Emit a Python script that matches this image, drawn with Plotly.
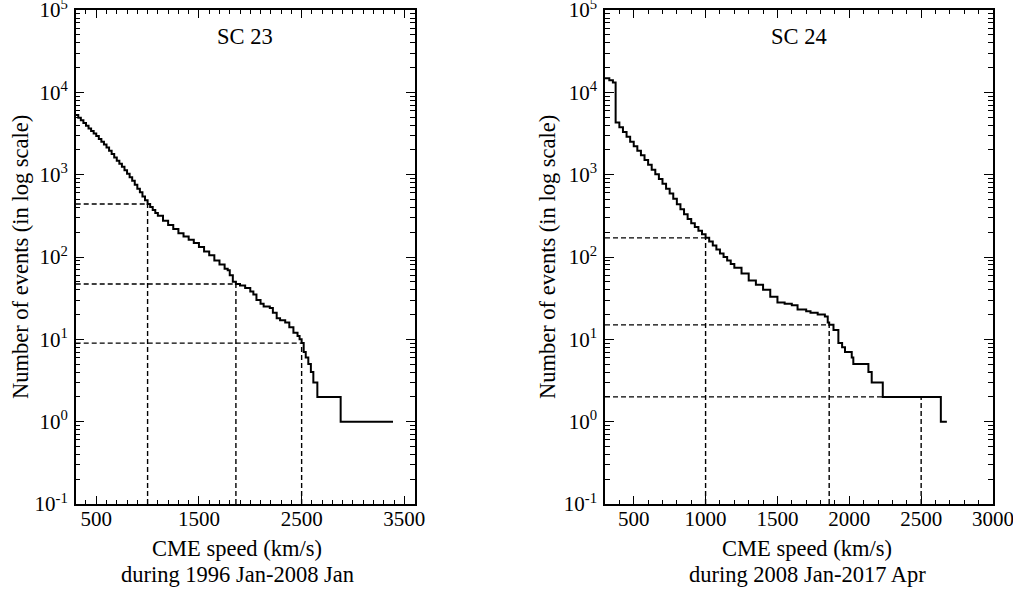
import plotly.graph_objects as go

W, H = 1013, 590

# ---- data ----
sc23_speed = [300, 325, 350, 375, 400, 425, 450, 475, 500, 525, 550, 575, 600, 625, 650, 675,
              700, 725, 750, 775, 800, 825, 850, 875, 900, 925, 950, 975,
              1000, 1025, 1050, 1075, 1100, 1150, 1200, 1250, 1300, 1350, 1400, 1450, 1500, 1550,
              1600, 1650, 1700, 1750, 1780, 1800, 1830, 1860, 1900, 1950, 2000, 2030,
              2060, 2100, 2130, 2190, 2220, 2257, 2290, 2340, 2380, 2420, 2460, 2480,
              2500, 2520, 2540, 2565, 2590, 2614, 2653, 2880, 3390]
sc23_count = [5300, 4920, 4570, 4250, 3940, 3650, 3390, 3160, 2950, 2720, 2510, 2320, 2140, 1950, 1780, 1620,
              1480, 1360, 1245, 1130, 1023, 930, 841, 755, 676, 610, 543, 490,
              440, 405, 372, 343, 316, 275, 245, 219, 195, 178, 162, 148, 132, 117,
              105, 91, 81, 72, 69, 60, 50, 47, 45, 42, 38, 35,
              30, 27, 25, 24, 21, 18, 17, 16, 14, 12, 11, 10,
              9, 7, 6, 5, 4, 3, 2, 1, 1]

sc24_speed = [300, 330, 355, 374, 400, 425, 450, 475, 500, 525, 550, 575, 600, 625, 650, 675,
              700, 725, 750, 775, 800, 825, 850, 875, 900, 925, 950, 975,
              1000, 1025, 1050, 1075, 1100, 1125, 1150, 1175, 1200, 1250, 1300, 1350, 1400, 1450, 1500, 1550,
              1600, 1640, 1700, 1730, 1780, 1830, 1850, 1860, 1890, 1924, 1950, 1970,
              2017, 2028, 2133, 2156, 2233, 2637, 2679]
sc24_count = [14800, 14000, 13200, 4300, 3760, 3290, 2880, 2520, 2210, 1950, 1720, 1510, 1320, 1150, 1010, 885,
              776, 676, 589, 510, 437, 380, 331, 290, 257, 231, 209, 189,
              171, 154, 138, 123, 110, 100, 91, 82, 74, 63, 52, 46, 40, 33, 28, 27,
              26, 23, 22, 21, 20, 19, 16, 15, 13, 9, 8, 7,
              6, 5, 4, 3, 2, 1, 1]

ref_speeds = [1000, 1860, 2500]
sc23_ref_counts = [440, 47, 9]
sc24_ref_counts = [171, 15, 2]

ytick_vals = [0.1, 1, 10, 100, 1000, 10000, 100000]
ytick_text = ["10<sup>-1</sup>", "10<sup>0</sup>", "10<sup>1</sup>", "10<sup>2</sup>",
              "10<sup>3</sup>", "10<sup>4</sup>", "10<sup>5</sup>"]

panel_titles = ["SC 23", "SC 24"]
x_title = "CME speed (km/s)"
x_periods = ["during 1996 Jan-2008 Jan", "during 2008 Jan-2017 Apr"]
y_title = "Number of events (in log scale)"

xranges = [[300, 3600], [300, 3000]]
xdticks = [1000, 500]
YMIN = 0.1

FONT = "'Liberation Serif', 'Times New Roman', Times, 'DejaVu Serif', serif"
TICK_SIZE = 21
TEXT_SIZE = 22.5

fig = go.Figure()

def dashed_xy(speeds, counts, x0):
    xs, ys = [], []
    for v, n in zip(speeds, counts):
        xs += [v, v, None, x0, v, None]
        ys += [YMIN, n, None, n, n, None]
    return xs, ys

panels = [(sc23_speed, sc23_count, sc23_ref_counts), (sc24_speed, sc24_count, sc24_ref_counts)]
for i, (sp, ct, rc) in enumerate(panels):
    xa = "x" if i == 0 else "x2"
    ya = "y" if i == 0 else "y2"
    dx, dy = dashed_xy(ref_speeds, rc, xranges[i][0])
    fig.add_trace(go.Scatter(x=dx, y=dy, mode="lines", xaxis=xa, yaxis=ya,
                             line=dict(color="black", width=1.4, dash="5px,3px"),
                             showlegend=False, hoverinfo="skip"))
    fig.add_trace(go.Scatter(x=sp, y=ct, mode="lines", xaxis=xa, yaxis=ya,
                             line=dict(color="black", width=2, shape="hv"),
                             showlegend=False))

xdomains = [[75.7 / W, 414.6 / W], [605 / W, 993 / W]]
ydomain = [1 - 504 / H, 1 - 10 / H]

axis_common = dict(showline=True, linecolor="black", linewidth=1.5, mirror="allticks",
                   ticks="inside", tickcolor="black", showgrid=False, zeroline=False,
                   ticklabeloverflow="allow", automargin=False,
                   tickfont=dict(family=FONT, size=TICK_SIZE, color="black"))

layout = dict(width=W, height=H, margin=dict(l=0, r=0, t=0, b=0, autoexpand=False),
              paper_bgcolor="white", plot_bgcolor="white",
              font=dict(family=FONT, size=TICK_SIZE, color="black"), showlegend=False)

for i in range(2):
    sfx = "" if i == 0 else "2"
    layout["xaxis" + sfx] = dict(axis_common, domain=xdomains[i], range=xranges[i],
                                  anchor="y" + sfx, tick0=500, dtick=xdticks[i], ticklen=8,
                                  tickwidth=1.2, ticklabelstandoff=-5,
                                  minor=dict(ticks="inside", dtick=100, ticklen=4,
                                             tickcolor="black", tickwidth=1))
    layout["yaxis" + sfx] = dict(axis_common, domain=ydomain, type="log", range=[-1, 5.0002],
                                  anchor="x" + sfx, tickvals=ytick_vals, ticktext=ytick_text,
                                  ticklen=9, tickwidth=1.2, ticklabelstandoff=2,
                                  minor=dict(ticks="inside", dtick="D1", ticklen=5,
                                             tickcolor="black", tickwidth=1))

fig.update_layout(**layout)

# annotations: panel titles, axis titles
ann = []
title_x = [(75.7 + 414.6) / 2, (605 + 993) / 2]
xtitle_x = [237, 807]
ytitle_x = [20, 547]
tf = dict(family=FONT, size=TEXT_SIZE, color="black")
for i in range(2):
    ann.append(dict(text=panel_titles[i], x=title_x[i] / W, y=1 - 36 / H, xref="paper", yref="paper",
                    showarrow=False, xanchor="center", yanchor="middle", font=tf))
    ann.append(dict(text=x_title, x=xtitle_x[i] / W, y=1 - 548 / H, xref="paper", yref="paper",
                    showarrow=False, xanchor="center", yanchor="middle", font=tf))
    ann.append(dict(text=x_periods[i], x=xtitle_x[i] / W, y=1 - 574 / H, xref="paper", yref="paper",
                    showarrow=False, xanchor="center", yanchor="middle", font=tf))
    ann.append(dict(text=y_title, x=ytitle_x[i] / W, y=1 - 257 / H, xref="paper", yref="paper",
                    showarrow=False, xanchor="center", yanchor="middle", textangle=-90, font=tf))
fig.update_layout(annotations=ann)

fig.write_html("out.html")
